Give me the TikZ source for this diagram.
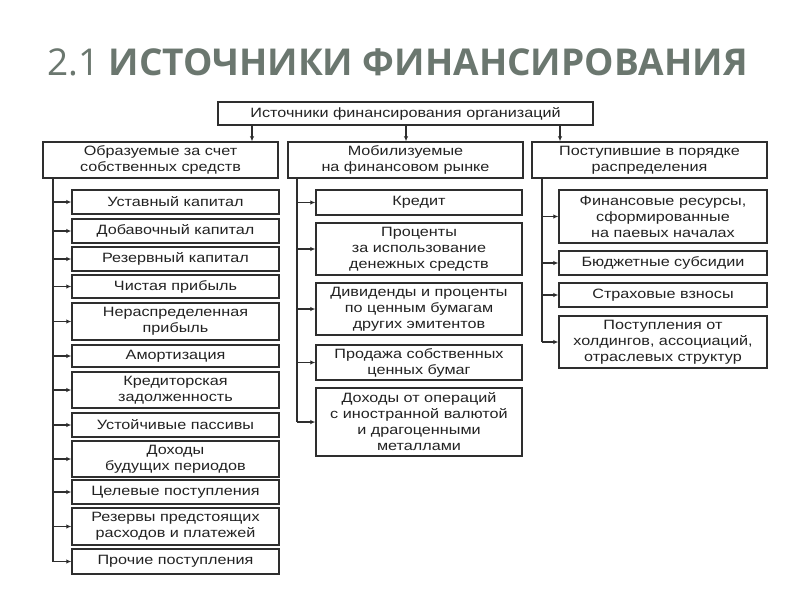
\documentclass[tikz,border=0pt]{standalone}
\usepackage{fontspec}
\setmainfont[FakeStretch=1.2]{Liberation Sans}
\newfontfamily\titlefont{Open Sans}
\usetikzlibrary{arrows.meta}
\definecolor{titlec}{HTML}{6B776F}
\definecolor{linec}{HTML}{2E2E2E}
\definecolor{textc}{HTML}{222222}
\newcommand\mybox[6]{\node[box, minimum width=#4pt, minimum height=#5pt] (#1) at (#2,#3) {#6};}
\begin{document}
\begin{tikzpicture}[x=1pt,y=-1pt,
  box/.style={draw=linec, line width=1.4pt, fill=white, align=center, inner sep=0pt,
    font=\fontsize{13.5}{16}\selectfont, text=textc},
  arr/.style={draw=linec, line width=1.2pt, -{Latex[length=5pt,width=4.5pt]}},
  bus/.style={draw=linec, line width=1.2pt}]
\useasboundingbox[fill=white] (0,0) rectangle (800,600);
\node[anchor=base west, text=titlec, inner sep=0pt,
  font=\titlefont\fontsize{37}{40}\selectfont] (title) at (47,75)
  {2.1 \textbf{ИСТОЧНИКИ ФИНАНСИРОВАНИЯ}};
% top
\mybox{top}{405.5}{113.5}{375}{23}{Источники финансирования организаций}
% categories
\mybox{c1}{160.5}{160}{235}{36}{Образуемые за счет\\собственных средств}
\mybox{c2}{405.5}{160}{235}{36}{Мобилизуемые\\на финансовом рынке}
\mybox{c3}{649.5}{160}{235}{36}{Поступившие в порядке\\распределения}
% left
\mybox{l1}{175.5}{202}{207}{24}{Уставный капитал}
\mybox{l2}{175.5}{231}{207}{24}{Добавочный капитал}
\mybox{l3}{175.5}{259}{207}{24}{Резервный капитал}
\mybox{l4}{175.5}{286.5}{207}{23}{Чистая прибыль}
\mybox{l5}{175.5}{321.5}{207}{37}{Нераспределенная\\прибыль}
\mybox{l6}{175.5}{356}{207}{22}{Амортизация}
\mybox{l7}{175.5}{390}{207}{36}{Кредиторская\\задолженность}
\mybox{l8}{175.5}{425}{207}{24}{Устойчивые пассивы}
\mybox{l9}{175.5}{459}{207}{36}{Доходы\\будущих периодов}
\mybox{l10}{175.5}{492}{207}{24}{Целевые поступления}
\mybox{l11}{175.5}{526.5}{207}{37}{Резервы предстоящих\\расходов и платежей}
\mybox{l12}{175.5}{561.5}{207}{25}{Прочие поступления}
% middle
\mybox{m1}{419}{202.5}{206}{25}{Кредит}
\mybox{m2}{419}{249}{206}{52}{Проценты\\за использование\\денежных средств}
\mybox{m3}{419}{309}{206}{52}{Дивиденды и проценты\\по ценным бумагам\\других эмитентов}
\mybox{m4}{419}{362.5}{206}{35}{Продажа собственных\\ценных бумаг}
\mybox{m5}{419}{422}{206}{68}{Доходы от операций\\с иностранной валютой\\и драгоценными\\металлами}
% right
\mybox{r1}{663}{216.5}{208}{53}{Финансовые ресурсы,\\сформированные\\на паевых началах}
\mybox{r2}{663}{263}{208}{24}{Бюджетные субсидии}
\mybox{r3}{663}{295}{208}{24}{Страховые взносы}
\mybox{r4}{663}{342}{208}{52}{Поступления от\\холдингов, ассоциаций,\\отраслевых структур}
% arrows from top
\coordinate (a1) at (252,0);
\coordinate (a2) at (406,0);
\coordinate (a3) at (560,0);
\draw[arr] (top.south -| a1) -- (c1.north -| a1);
\draw[arr] (top.south -| a2) -- (c2.north -| a2);
\draw[arr] (top.south -| a3) -- (c3.north -| a3);
% buses
\coordinate (b1) at (53,0);
\coordinate (b2) at (297,0);
\coordinate (b3) at (542,0);
\draw[bus] (c1.south -| b1) -- (b1 |- l12.west);
\draw[bus] (c2.south -| b2) -- (b2 |- m5.west);
\draw[bus] (c3.south -| b3) -- (b3 |- r4.west);
\foreach \n in {l1,l2,l3,l4,l5,l6,l7,l8,l9,l10,l11,l12}
  \draw[arr] (b1 |- \n.west) -- (\n.west);
\foreach \n in {m1,m2,m3,m4,m5}
  \draw[arr] (b2 |- \n.west) -- (\n.west);
\foreach \n in {r1,r2,r3,r4}
  \draw[arr] (b3 |- \n.west) -- (\n.west);
\end{tikzpicture}
\end{document}
